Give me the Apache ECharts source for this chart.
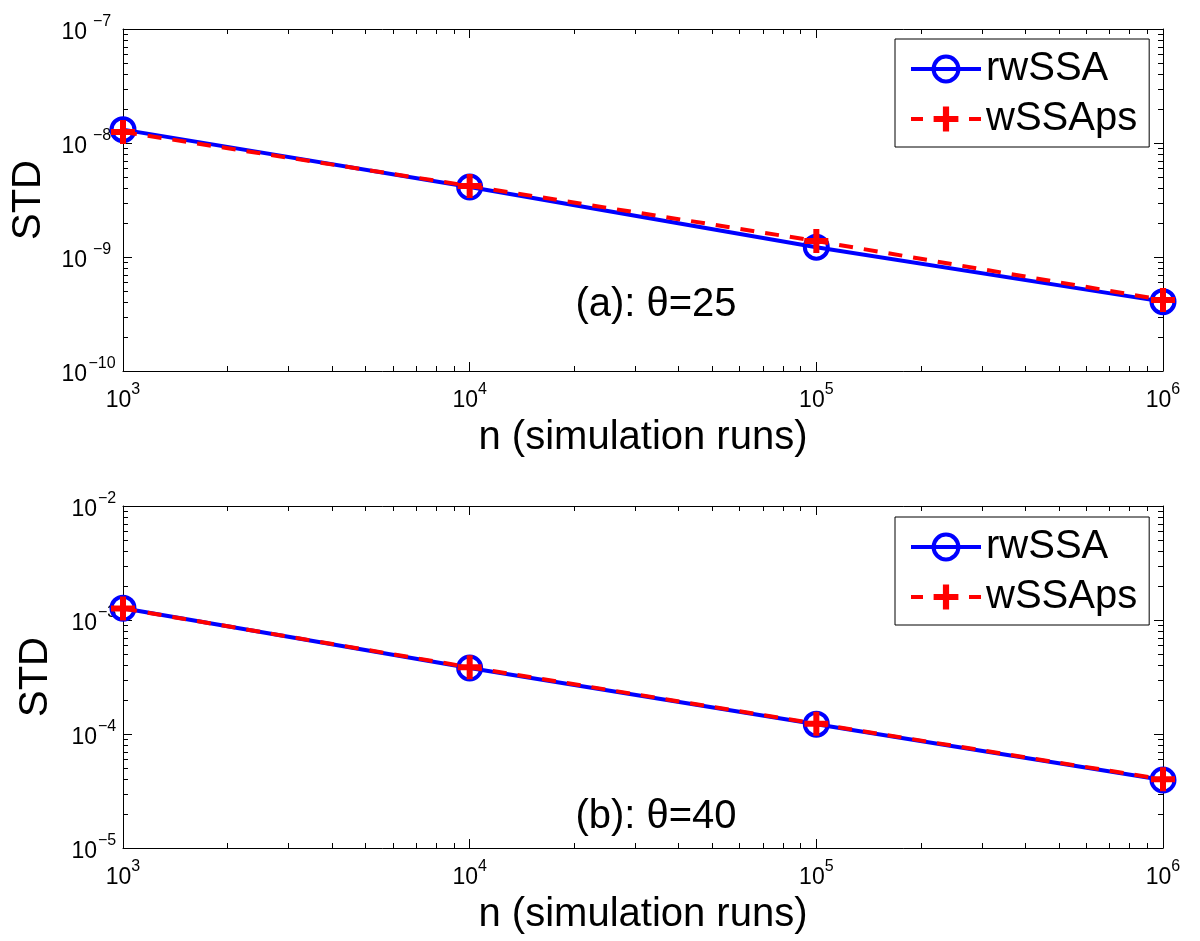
<!DOCTYPE html>
<html><head><meta charset="utf-8">
<script src="https://cdn.jsdelivr.net/npm/echarts@6/dist/echarts.min.js"></script>
<style>html,body{margin:0;padding:0;background:#fff}#c{width:1200px;height:941px}</style>
</head><body><div id="c"></div>
<script>
// ---- data ----
const nRuns = [1e3, 1e4, 1e5, 1e6];
const rwSSA_a = [1.31e-8, 4.11e-9, 1.22e-9, 4.06e-10];
const wSSAps_a = [1.25e-8, 4.2e-9, 1.38e-9, 4.2e-10];
const rwSSA_b = [1.27e-3, 3.79e-4, 1.22e-4, 3.95e-5];
const wSSAps_b = [1.26e-3, 3.85e-4, 1.23e-4, 4.0e-5];
const xTicks = [1e3, 1e4, 1e5, 1e6];
const yTicksA = [1e-10, 1e-9, 1e-8, 1e-7];
const yTicksB = [1e-5, 1e-4, 1e-3, 1e-2];
const minorMult = [2, 3, 4, 5, 6, 7, 8, 9];
const seriesNames = ['rwSSA', 'wSSAps'];
const panelLabels = ['(a): \u03b8=25', '(b): \u03b8=40'];
const xTitle = 'n (simulation runs)';
const yTitle = 'STD';

// ---- helpers ----
const FONT = 'Liberation Sans';
const BLUE = '#0000ff', RED = '#ff0000';
function minors(majors) {
  const out = [];
  for (let i = 0; i < majors.length - 1; i++) minorMult.forEach(m => out.push(majors[i] * m));
  return out;
}
function supFmt(v) {
  const e = Math.round(Math.log10(v));
  return '{b|10}{s|' + (e < 0 ? '\u2212' + (-e) : e) + '}';
}
function richFor(w) {
  const s = {fontSize: 16, fontFamily: FONT, color: '#000', lineHeight: 10, verticalAlign: 'top'};
  if (w) { s.width = w; s.align = 'left'; }
  return {b: {fontSize: 23, fontFamily: FONT, color: '#000', lineHeight: 30, verticalAlign: 'bottom'}, s: s};
}
const lineBlack = {show: true, lineStyle: {color: '#000', width: 1}};
const nameStyle = {fontSize: 40, fontFamily: FONT, color: '#000'};

function makeX(gi, pos, main) {
  return {
    type: 'log', logBase: 10, gridIndex: gi, position: pos, min: xTicks[0], max: xTicks[xTicks.length - 1],
    splitNumber: 3, splitLine: {show: false}, axisLine: lineBlack,
    axisTick: {show: true, inside: true, length: 9, lineStyle: {color: '#000', width: 1}},
    axisLabel: main ? {show: true, formatter: supFmt, margin: 11, rich: richFor(0), color: '#000'} : {show: false},
    name: main ? xTitle : '', nameLocation: 'middle', nameGap: 47, nameTextStyle: nameStyle,
    nameMoveOverlap: false, silent: true
  };
}
function makeY(gi, pos, main, ticks, w, gap) {
  return {
    type: 'log', logBase: 10, gridIndex: gi, position: pos, min: ticks[0], max: ticks[ticks.length - 1],
    splitNumber: 3, splitLine: {show: false}, axisLine: lineBlack,
    axisTick: {show: true, inside: true, length: 9, lineStyle: {color: '#000', width: 1}},
    axisLabel: main ? {show: true, formatter: supFmt, margin: 6, rich: richFor(w), color: '#000', align: 'right'} : {show: false},
    name: main ? yTitle : '', nameLocation: 'middle', nameRotate: 90, nameGap: gap, nameTextStyle: nameStyle,
    nameMoveOverlap: false, silent: true
  };
}
function pairs(xs, ys) { return xs.map((x, i) => [x, ys[i]]); }
function lineSeries(name, data, ai, isBlue) {
  const base = {
    name: name, type: 'line', xAxisIndex: ai, yAxisIndex: ai, data: data, clip: false, silent: true,
    emphasis: {disabled: true}
  };
  if (isBlue) {
    return Object.assign(base, {
      symbol: 'circle', symbolSize: 23, z: 3,
      itemStyle: {color: 'rgba(255,255,255,0)', borderColor: BLUE, borderWidth: 4},
      lineStyle: {color: BLUE, width: 4, type: 'solid'}
    });
  }
  return Object.assign(base, {
    symbol: 'path://M9,0H15V9H24V15H15V24H9V15H0V9H9Z', symbolSize: 24, symbolKeepAspect: true, z: 4,
    itemStyle: {color: RED, borderWidth: 0},
    lineStyle: {color: RED, width: 4, type: [14, 11]}
  });
}
function minorSeries(ai, yTicks) {
  const data = [];
  minors(xTicks).forEach(v => data.push([v, yTicks[0], 0]));
  minors(yTicks).forEach(v => data.push([xTicks[0], v, 1]));
  return {
    type: 'custom', xAxisIndex: ai, yAxisIndex: ai, silent: true, clip: false, z: 1,
    dimensions: ['x', 'y', 'k'], encode: {x: 0, y: 1},
    data: data,
    renderItem: function (params, api) {
      const cs = params.coordSys;
      const p = api.coord([api.value(0), api.value(1)]);
      const k = api.value(2);
      const L = 5, st = {stroke: '#000', lineWidth: 1};
      if (k === 0) {
        const x = Math.round(p[0]) + 0.5;
        return {type: 'group', children: [
          {type: 'line', shape: {x1: x, y1: cs.y + cs.height, x2: x, y2: cs.y + cs.height - L}, style: st},
          {type: 'line', shape: {x1: x, y1: cs.y, x2: x, y2: cs.y + L}, style: st}
        ]};
      }
      const y = Math.round(p[1]) + 0.5;
      return {type: 'group', children: [
        {type: 'line', shape: {x1: cs.x, y1: y, x2: cs.x + L, y2: y}, style: st},
        {type: 'line', shape: {x1: cs.x + cs.width, y1: y, x2: cs.x + cs.width - L, y2: y}, style: st}
      ]};
    }
  };
}
function legendAt(top) {
  return {
    data: [
      {name: seriesNames[0], itemStyle: {borderWidth: 4, borderColor: BLUE, color: 'rgba(255,255,255,0)'}, lineStyle: {width: 4, color: BLUE}},
      {name: seriesNames[1], lineStyle: {width: 4, color: RED, type: [12, 17]}}
    ],
    orient: 'vertical', left: 895, top: top,
    itemWidth: 70, itemHeight: 31, itemGap: 10, padding: [10, 12, 8, 14],
    borderColor: '#000', borderWidth: 1, backgroundColor: '#fff', borderRadius: 0,
    textStyle: {fontSize: 40, fontFamily: FONT, color: '#000', lineHeight: 40},
    selectedMode: false, z: 10
  };
}

const chart = echarts.init(document.getElementById('c'), null, {renderer: 'canvas'});
chart.setOption({
  animation: false,
  backgroundColor: '#fff',
  textStyle: {fontFamily: FONT},
  grid: [
    {left: 123, top: 29, width: 1040, height: 342, show: false, outerBoundsMode: 'none', containLabel: false},
    {left: 123, top: 506, width: 1040, height: 342, show: false, outerBoundsMode: 'none', containLabel: false}
  ],
  xAxis: [
    makeX(0, 'bottom', true), makeX(0, 'top', false),
    makeX(1, 'bottom', true), makeX(1, 'top', false)
  ],
  yAxis: [
    makeY(0, 'left', true, yTicksA, 30, 74), makeY(0, 'right', false, yTicksA),
    makeY(1, 'left', true, yTicksB, 20, 67), makeY(1, 'right', false, yTicksB)
  ],
  legend: [legendAt(39), legendAt(517)],
  graphic: [
    {type: 'text', x: 656, y: 305, silent: true, style: {text: panelLabels[0], font: '40px "Liberation Sans"', fill: '#000', align: 'center', verticalAlign: 'middle'}},
    {type: 'text', x: 656, y: 817, silent: true, style: {text: panelLabels[1], font: '40px "Liberation Sans"', fill: '#000', align: 'center', verticalAlign: 'middle'}}
  ],
  series: [
    minorSeries(0, yTicksA),
    minorSeries(2, yTicksB),
    lineSeries(seriesNames[0], pairs(nRuns, rwSSA_a), 0, true),
    lineSeries(seriesNames[1], pairs(nRuns, wSSAps_a), 0, false),
    lineSeries(seriesNames[0], pairs(nRuns, rwSSA_b), 2, true),
    lineSeries(seriesNames[1], pairs(nRuns, wSSAps_b), 2, false)
  ]
});
</script>
</body></html>
